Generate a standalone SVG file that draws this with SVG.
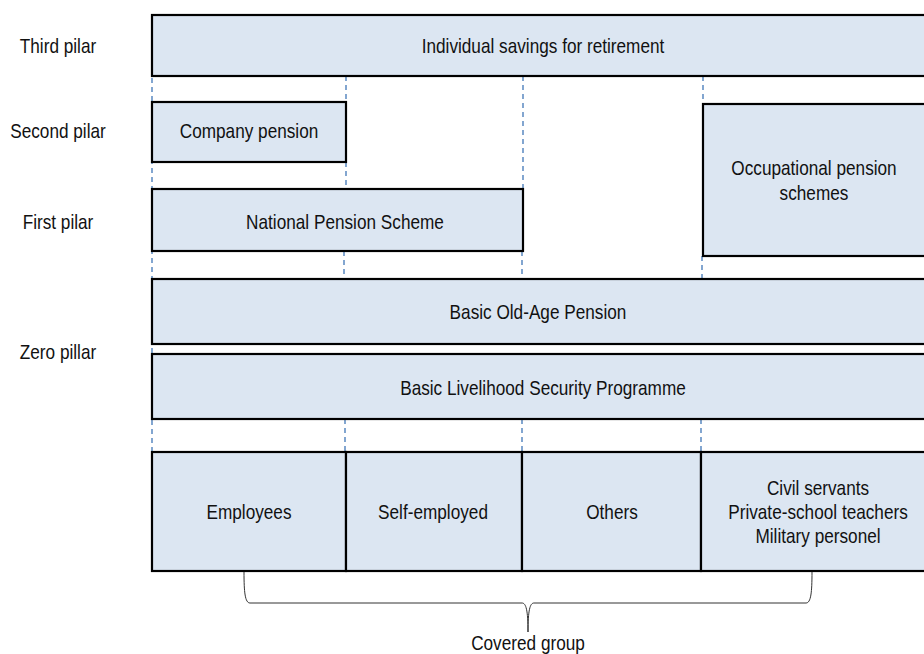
<svg xmlns="http://www.w3.org/2000/svg" width="924" height="654" viewBox="0 0 924 654">
<style>
.box{fill:#dce6f2;stroke:#000;stroke-width:2.2}
.dash{stroke:#4f81bd;stroke-width:1.4;stroke-dasharray:5 4;fill:none}
text{font-family:"Liberation Sans Narrow","Liberation Sans",Arial,sans-serif;font-size:20px;fill:#111;text-anchor:middle;dominant-baseline:central}
.brace{fill:none;stroke:#333;stroke-width:1}
</style>
<rect width="924" height="654" fill="#fff"/>
<g id="connectors">
<path class="dash" d="M152 15V452"/>
<path class="dash" d="M346 76V102M346 162V189M344 251V279M345 419V452"/>
<path class="dash" d="M523 76V189M522 251V279M522 419V452"/>
<path class="dash" d="M703 76V104M702 256V279M701 419V452"/>
</g>
<g id="label-third"><text transform="translate(58 46) scale(0.86 1)">Third pilar</text></g>
<g id="label-second"><text transform="translate(58 131) scale(0.86 1)">Second pilar</text></g>
<g id="label-first"><text transform="translate(58 222) scale(0.86 1)">First pilar</text></g>
<g id="label-zero"><text transform="translate(58 352) scale(0.86 1)">Zero pillar</text></g>
<g id="third"><rect class="box" x="152" y="15" width="790" height="61"/><text transform="translate(543 46) scale(0.86 1)">Individual savings for retirement</text></g>
<g id="company"><rect class="box" x="152" y="102" width="194" height="60"/><text transform="translate(249 131) scale(0.86 1)">Company pension</text></g>
<g id="national"><rect class="box" x="152" y="189" width="371" height="62"/><text transform="translate(345 222) scale(0.86 1)">National Pension Scheme</text></g>
<g id="occupational"><rect class="box" x="703" y="104" width="240" height="152"/><text transform="translate(814 168) scale(0.86 1)">Occupational pension</text><text transform="translate(814 193) scale(0.86 1)">schemes</text></g>
<g id="basic-old-age"><rect class="box" x="152" y="279" width="790" height="65"/><text transform="translate(538 312) scale(0.86 1)">Basic Old-Age Pension</text></g>
<g id="livelihood"><rect class="box" x="152" y="354" width="790" height="65"/><text transform="translate(543 388) scale(0.86 1)">Basic Livelihood Security Programme</text></g>
<g id="employees"><rect class="box" x="152" y="452" width="194" height="119"/><text transform="translate(249 512) scale(0.86 1)">Employees</text></g>
<g id="self-employed"><rect class="box" x="346" y="452" width="176" height="119"/><text transform="translate(433 512) scale(0.86 1)">Self-employed</text></g>
<g id="others"><rect class="box" x="522" y="452" width="179" height="119"/><text transform="translate(612 512) scale(0.86 1)">Others</text></g>
<g id="civil"><rect class="box" x="701" y="452" width="242" height="119"/><text transform="translate(818 488) scale(0.86 1)">Civil servants</text><text transform="translate(818 512) scale(0.86 1)">Private-school teachers</text><text transform="translate(818 536) scale(0.86 1)">Military personel</text></g>
<g id="covered-group">
<path class="brace" d="M244 572C244 592 245 603 250 603H522C526 603 528 610 528 632M528 632C528 610 530 603 534 603H806C811 603 812 592 812 572"/>
<text transform="translate(528 643) scale(0.86 1)">Covered group</text>
</g>
</svg>
